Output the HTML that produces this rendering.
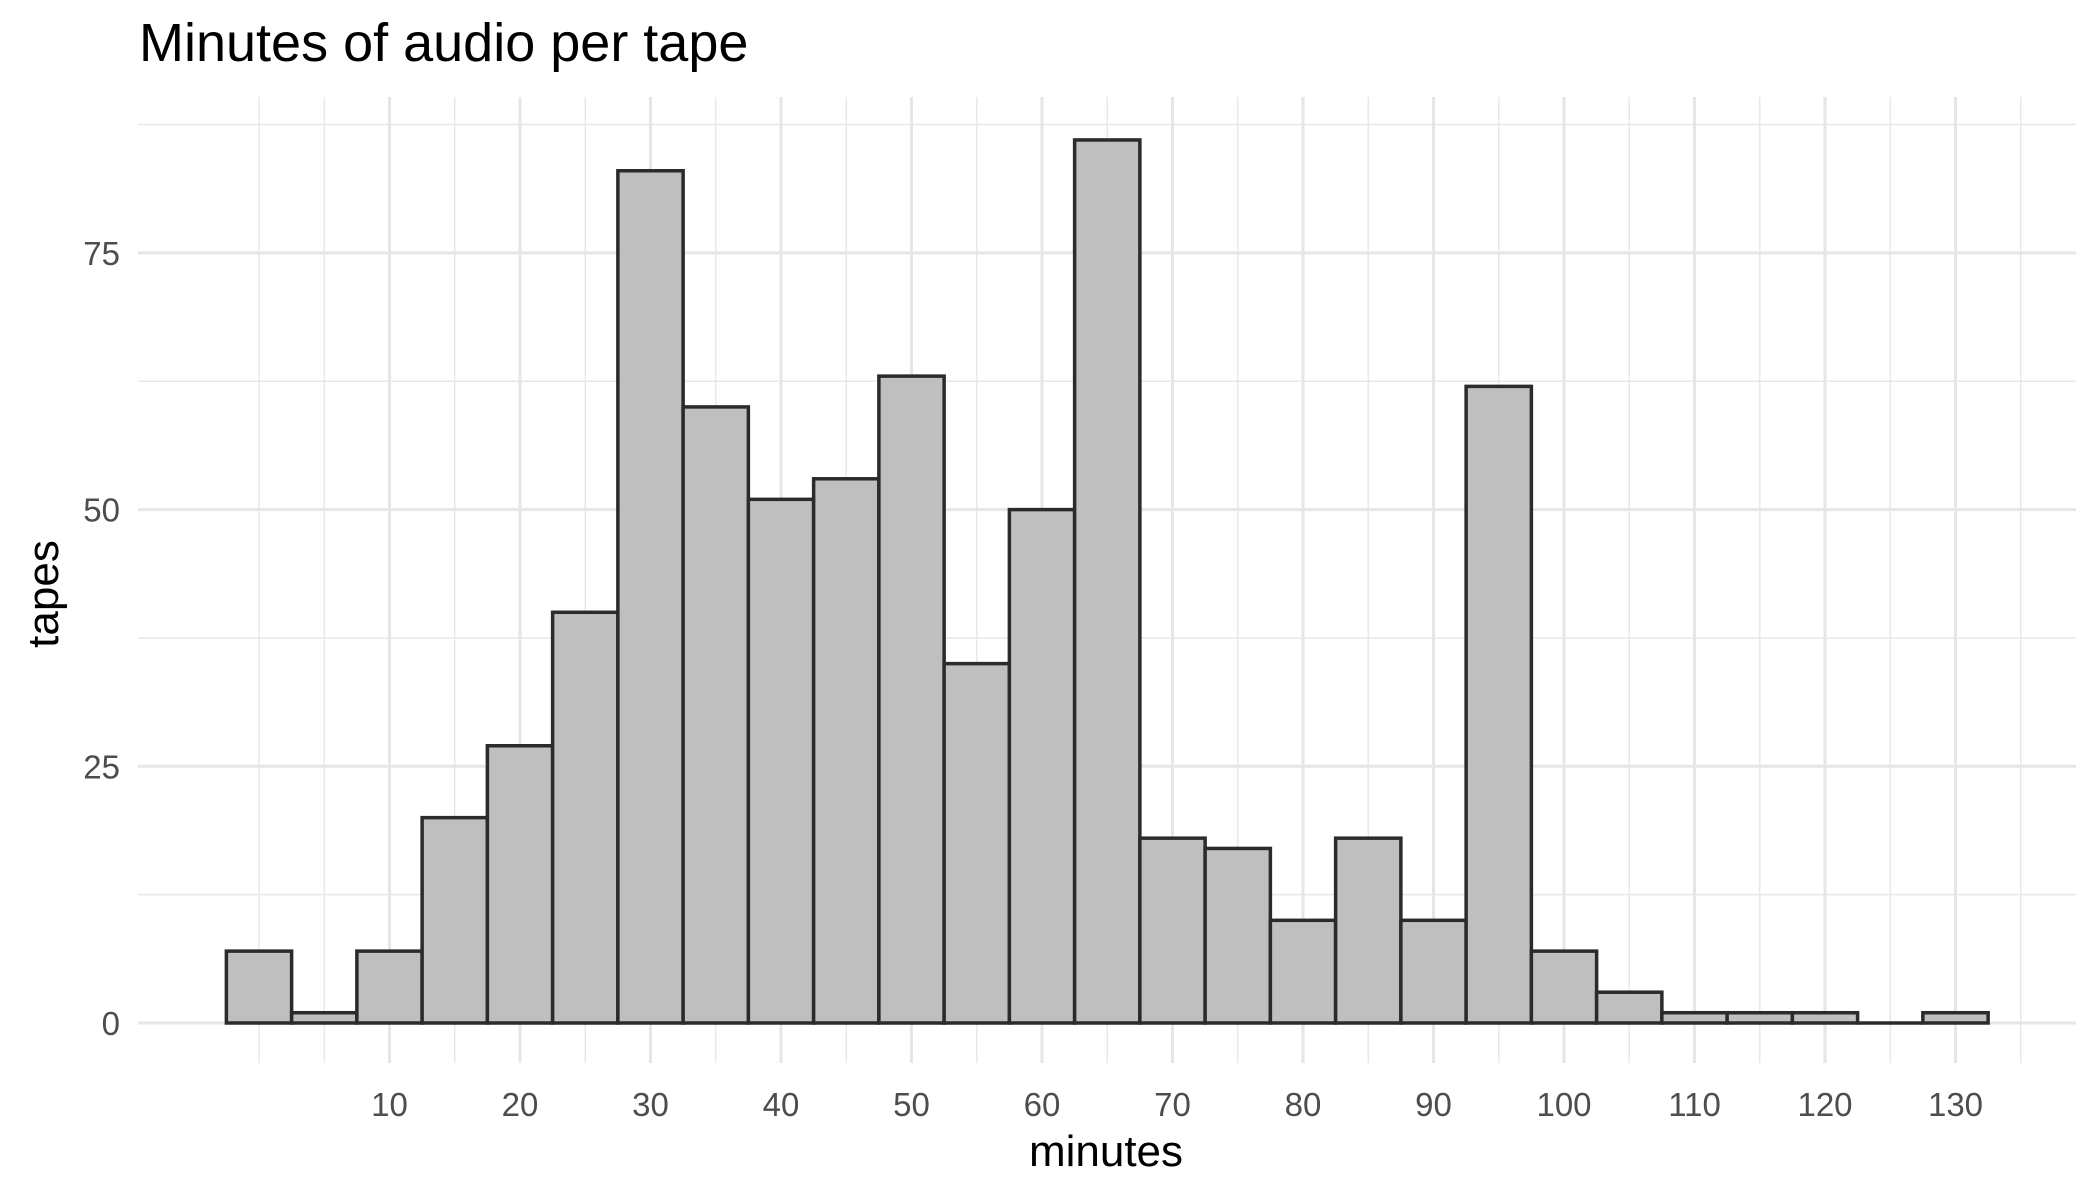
<!DOCTYPE html>
<html><head><meta charset="utf-8"><style>
html,body{margin:0;padding:0;background:#fff;}
svg{display:block;font-family:"Liberation Sans",sans-serif;}
</style></head><body>
<svg id="chart" width="2100" height="1200">
<text x="139" y="61" font-size="54" fill="#000">Minutes of audio per tape</text>
<g id="grid"></g>
<g id="bars"></g>
<g id="axes"></g>
<text x="1106" y="1166" font-size="44" text-anchor="middle" fill="#000">minutes</text>
<text transform="translate(58,594) rotate(-90)" font-size="44" text-anchor="middle" fill="#000">tapes</text>
</svg>
<script>
const binCenters=[0,5,10,15,20,25,30,35,40,45,50,55,60,65,70,75,80,85,90,95,100,105,110,115,120,125,130];
const counts=[7,1,7,20,27,40,83,60,51,53,63,35,50,86,18,17,10,18,10,62,7,3,1,1,1,0,1];
const xTicks=[10,20,30,40,50,60,70,80,90,100,110,120,130];
const xMinor=[0,5,15,25,35,45,55,65,75,85,95,105,115,125,135];
const yTicks=[0,25,50,75];
const yMinor=[12.5,37.5,62.5,87.5];
const binWidth=5;
const NS="http://www.w3.org/2000/svg";
const X=v=>259+(v/10)*130.5;
const Y=v=>1023-(v/25)*256.7;
const gx0=138,gx1=2076,gy0=97,gy1=1063;
function el(tag,attrs,parent){const e=document.createElementNS(NS,tag);for(const k in attrs)e.setAttribute(k,attrs[k]);parent.appendChild(e);return e;}
const grid=document.getElementById('grid'),bars=document.getElementById('bars'),axes=document.getElementById('axes');
yMinor.forEach(v=>{const l=el('line',{x1:gx0,x2:gx1,y1:Y(v),y2:Y(v),stroke:'#e8e8e8','stroke-width':1.5},grid);

});
xMinor.forEach(v=>{const l=el('line',{x1:X(v),x2:X(v),y1:gy0,y2:gy1,stroke:'#e8e8e8','stroke-width':1.5},grid);

});
yTicks.forEach(v=>{const l=el('line',{x1:gx0,x2:gx1,y1:Y(v),y2:Y(v),stroke:'#e6e6e6','stroke-width':3},grid);


const t=el('text',{x:120,y:Y(v)+12,'font-size':33,'text-anchor':'end',fill:'#4d4d4d'},axes);t.textContent=v;

});
xTicks.forEach(v=>{const l=el('line',{x1:X(v),x2:X(v),y1:gy0,y2:gy1,stroke:'#e6e6e6','stroke-width':3},grid);


const t=el('text',{x:X(v),y:1116,'font-size':33,'text-anchor':'middle',fill:'#4d4d4d'},axes);t.textContent=v;

});
binCenters.forEach((c,i)=>{const x0=X(c-binWidth/2),x1=X(c+binWidth/2),y=Y(counts[i]);
if(counts[i]===0){const l=el('line',{x1:x0,x2:x1,y1:y,y2:y,stroke:'#2b2b2b','stroke-width':3.5},bars);

return;}
const r=el('rect',{x:x0,y:y,width:x1-x0,height:Y(0)-y,fill:'#bfbfbf',stroke:'#2b2b2b','stroke-width':3.5},bars);

});
</script>
</body></html>
